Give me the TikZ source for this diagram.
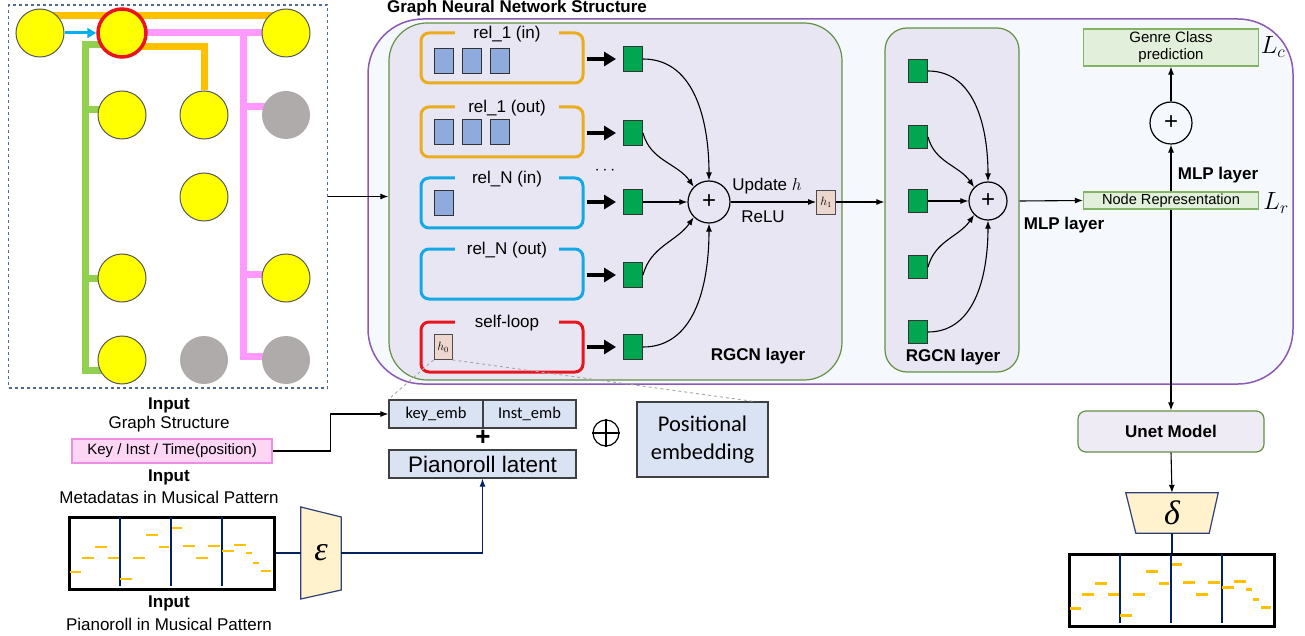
\documentclass[tikz,border=0pt]{standalone}
\usepackage{fontspec}
\setmainfont{Liberation Sans}
\newfontfamily\calibrifont{Carlito}
\newfontfamily\greekfont{Liberation Serif}
\definecolor{gnnpurple}{RGB}{140, 90, 180}
\definecolor{gnnfill}{RGB}{245, 248, 252}
\definecolor{layergreen}{RGB}{100, 145, 70}
\definecolor{layerfill}{RGB}{231, 230, 242}
\definecolor{relorange}{RGB}{235, 172, 30}
\definecolor{relblue}{RGB}{20, 168, 228}
\definecolor{relred}{RGB}{232, 20, 30}
\definecolor{vecblue}{RGB}{143, 170, 220}
\definecolor{msggreen}{RGB}{0, 166, 80}
\definecolor{hpink}{RGB}{236, 214, 206}
\definecolor{repfill}{RGB}{226, 239, 218}
\definecolor{repdraw}{RGB}{130, 180, 100}
\definecolor{embfill}{RGB}{218, 227, 243}
\definecolor{codecfill}{RGB}{255, 242, 204}
\definecolor{codecdraw}{RGB}{47, 64, 120}
\definecolor{navyline}{RGB}{0, 32, 96}
\definecolor{metafill}{RGB}{252, 214, 244}
\definecolor{metadraw}{RGB}{240, 140, 225}
\definecolor{noteorange}{RGB}{255, 192, 0}
\definecolor{edgegreen}{RGB}{146, 208, 80}
\definecolor{edgepink}{RGB}{255, 153, 255}
\definecolor{edgecyan}{RGB}{0, 176, 240}
\definecolor{nodeyellow}{RGB}{255, 255, 0}
\definecolor{nodegray}{RGB}{175, 171, 171}
\definecolor{framedash}{RGB}{80, 105, 150}
\definecolor{unetfill}{RGB}{238, 235, 245}
\usepackage{tikz}
\usetikzlibrary{arrows.meta, positioning, calc}
\pgfdeclarelayer{bg}
\pgfsetlayers{bg,main}

% bars and notes of one pianoroll, drawn inside node #1
\newcommand{\rollnotes}[1]{%
  \begin{scope}[shift={(#1.north west)}]
    \foreach \xv in {52, 103, 154}
      \draw[navyline, line width=1.1] (\xv, 1) -- (\xv, 70);
    \foreach \xa/\xb/\yv in {2/13/56, 14/26/42, 27/39/31, 40/51/42, 52/64/63, 65/77/42,
        78/90/19, 91/101/31, 104/114/12, 115/127/30, 128/140/42, 140/152/30,
        154/166/35, 166/178/29, 178/184/37, 185/191/47, 193/203/55}
      \draw[noteorange, line width=2.5] (\xa, \yv) -- (\xb, \yv);
  \end{scope}}

\begin{document}
\begin{tikzpicture}[x=1pt, y=-1pt,
  every node/.style={font=\fontsize{17}{19}\selectfont},
  lbl/.style={font=\fontsize{17}{19}\selectfont},
  boldlbl/.style={font=\fontsize{17}{19}\selectfont\bfseries},
  gvert/.style={circle, draw=black!65, line width=1, fill=nodeyellow, minimum size=48, inner sep=0},
  gmute/.style={circle, fill=nodegray, minimum size=48, inner sep=0},
  relbox/.style={draw=#1, line width=3, rounded corners=8, minimum width=162, minimum height=50},
  reltitle/.style={fill=layerfill, minimum width=104, inner sep=1, font=\fontsize{17}{19}\selectfont},
  vecsq/.style={draw=black!80, fill=vecblue, line width=1, minimum width=19, minimum height=25, inner sep=0},
  msgsq/.style={draw=black!80, fill=msggreen, line width=1, minimum width=19, minimum height=25, inner sep=0},
  hsq/.style={draw=black!70, fill=hpink, line width=0.8, minimum width=18, minimum height=25, inner sep=0, font=\fontsize{12}{13}\selectfont},
  sumnode/.style={circle, draw, line width=1.2, minimum size=#1, inner sep=0, font=\fontsize{24}{24}\selectfont},
  fatarrow/.style={line width=4, -{Triangle[length=12pt, width=14pt]}},
  thinarrow/.style={line width=1.1, -{Latex[length=8pt, width=6pt]}},
  repbox/.style={draw=repdraw, fill=repfill, line width=1.2, minimum width=175, minimum height=17, inner sep=0, font=\fontsize{14.6}{16}\selectfont},
  embbox/.style={draw=black!75, fill=embfill, line width=1.2, minimum height=28, inner sep=0, font=\calibrifont\fontsize{16.5}{18}\selectfont},
  rollbox/.style={draw, line width=3, minimum width=205, minimum height=72, inner sep=0},
  codec/.style={draw=codecdraw, fill=codecfill, line width=1.2}]

  \useasboundingbox (0, 0) rectangle (1305, 636);

  % Input graph
  \node[draw=framedash, dashed, line width=1.2, minimum width=319, minimum height=383] (gbox) at (168, 196.5) {};
  \node[gvert] (va) at (40, 33) {};
  \node[gvert, draw=relred, line width=3.5] (vr) at (122, 33) {};
  \node[gvert] (vc) at (286, 33) {};
  \node[gvert] (vd) at (122, 115) {};
  \node[gvert] (ve) at (204, 115) {};
  \node[gmute] (vf) at (286, 115) {};
  \node[gvert] (vg) at (204, 197) {};
  \node[gvert] (vh) at (122, 278) {};
  \node[gvert] (vi) at (286, 278) {};
  \node[gvert] (vj) at (122, 360) {};
  \node[gmute] (vk) at (204, 360) {};
  \node[gmute] (vl) at (286, 360) {};
  \coordinate (pk) at (243, 33);
  \coordinate (gk) at (85, 45);
  \begin{pgfonlayer}{bg}
    \draw[noteorange, line width=7] ([yshift=17pt]va.center) -- ([yshift=17pt]vc.center);
    \draw[noteorange, line width=7] ([yshift=-14pt]vr.center) -| (ve.north);
    \draw[edgepink, line width=7] (vr.center) -- (vc.center);
    \draw[edgepink, line width=7] (pk) |- ([yshift=8pt]vf.center);
    \draw[edgepink, line width=7] (pk) |- ([yshift=4pt]vi.center);
    \draw[edgepink, line width=7] (pk) |- ([yshift=4pt]vl.center);
    \draw[edgegreen, line width=7] ([yshift=-12pt]vr.center) -- (gk) |- ([yshift=5pt]vd.center);
    \draw[edgegreen, line width=7] (gk) |- (vh.center);
    \draw[edgegreen, line width=7] (gk) |- ([yshift=-10pt]vj.center);
  \end{pgfonlayer}
  \draw[edgecyan, line width=3, -{Triangle[length=9pt, width=10pt]}] (va.east) -- (vr.west);

  % GNN frame and layers
  \node[boldlbl] (title) at (517, 8) {Graph Neural Network Structure};
  \node[draw=gnnpurple, fill=gnnfill, line width=1.5, rounded corners=55, minimum width=925, minimum height=365] (gnn) at (830.5, 201.5) {};
  \node[draw=layergreen, fill=layerfill, line width=1.2, rounded corners=38, minimum width=453, minimum height=357] (L1) at (615.5, 201.5) {};
  \node[draw=layergreen, fill=layerfill, line width=1.2, rounded corners=22, minimum width=134, minimum height=344] (L2) at (952, 200) {};
  \draw[thinarrow] (gbox.east) -- (gbox.east -| L1.west);

  % Relations
  \node[relbox=relorange] (r1) at (502, 58) {};
  \node[relbox=relorange] (r2) at (502, 132) {};
  \node[relbox=relblue] (r3) at (502, 203) {};
  \node[relbox=relblue] (r4) at (502, 274) {};
  \node[relbox=relred] (r5) at (502, 347) {};
  \node[reltitle] (t1) at ([xshift=5pt, yshift=-3pt]r1.north) {rel\_1 (in)};
  \node[reltitle] (t2) at ([xshift=5pt, yshift=-3pt]r2.north) {rel\_1 (out)};
  \node[reltitle] (t3) at ([xshift=5pt, yshift=-3pt]r3.north) {rel\_N (in)};
  \node[reltitle] (t4) at ([xshift=5pt, yshift=-3pt]r4.north) {rel\_N (out)};
  \node[reltitle] (t5) at ([xshift=5pt, yshift=-3pt]r5.north) {self-loop};
  \foreach \xx in {444, 472, 500} {
    \node[vecsq] (vin-\xx) at (\xx, 61) {};
    \node[vecsq] (vout-\xx) at (\xx, 132) {};
  }
  \node[vecsq] (vN) at (444, 203) {};
  \node[hsq] (h0) at (443, 347) {$h_0$};

  % Messages and sum
  \foreach \nm/\yy in {m1/59, m2/133, m3/202, m4/275, m5/347}
    \node[msgsq] (\nm) at (633, \yy) {};
  \foreach \src/\dst in {r1/m1, r2/m2, r3/m3, r4/m4, r5/m5}
    \draw[fatarrow, shorten <=2pt, shorten >=7pt] (\src.east |- \dst.west) -- (\dst.west);
  \node[lbl] (dots) at (605, 171) {$\cdots$};
  \node[sumnode=42] (s1) at (709, 202) {+};
  \draw[thinarrow] (m1.east) to[out=0, in=90] (s1.north);
  \draw[thinarrow] (m2.east) to[out=-75, in=125] (s1.north west);
  \draw[thinarrow] (m3.east) -- (s1.west);
  \draw[thinarrow] (m4.east) to[out=75, in=-125] (s1.south west);
  \draw[thinarrow] (m5.east) to[out=0, in=-90] (s1.south);
  \node[hsq, minimum width=19, minimum height=24] (h1) at (826, 202) {$h_1$};
  \draw[thinarrow] (s1.east) -- (h1.west);
  \node[lbl] (upd) at (767, 186) {Update $h$};
  \node[lbl] (relu) at (763, 217) {ReLU};
  \node[boldlbl] (lab1) at (758, 356) {RGCN layer};
  \draw[thinarrow] (h1.east) -- (h1.east -| L2.west);

  % Second layer
  \foreach \nm/\yy in {q1/71, q2/137, q3/201, q4/267, q5/332}
    \node[msgsq, minimum height=23] (\nm) at (918, \yy) {};
  \node[sumnode=38] (s2) at (988, 201) {+};
  \draw[thinarrow] (q1.east) to[out=0, in=90] (s2.north);
  \draw[thinarrow] (q2.east) to[out=-75, in=125] (s2.north west);
  \draw[thinarrow] (q3.east) -- (s2.west);
  \draw[thinarrow] (q4.east) to[out=75, in=-125] (s2.south west);
  \draw[thinarrow] (q5.east) to[out=0, in=-90] (s2.south);
  \node[boldlbl] (lab2) at (953, 357) {RGCN layer};

  % Heads
  \node[repbox] (rep) at (1171, 200.5) {Node Representation};
  \node[repbox, minimum height=37, align=center, font=\fontsize{15}{17}\selectfont] (genre) at (1171, 47.5) {Genre Class\\prediction};
  \node[sumnode=42] (s3) at (1171, 123) {+};
  \draw[thinarrow] (L2.east |- s2) -- (rep.west);
  \draw[thinarrow] (rep.north) -- (s3.south);
  \draw[thinarrow] (s3.north) -- (genre.south);
  \node[boldlbl] (mlp1) at (1064, 225) {MLP layer};
  \node[boldlbl] (mlp2) at (1218, 175) {MLP layer};
  \node (lc) at (1273, 47) {\fontsize{26}{26}\selectfont$L_c$};
  \node (lr) at (1276, 203) {\fontsize{26}{26}\selectfont$L_r$};

  % Decoder side
  \node[boldlbl, draw=layergreen, fill=unetfill, rounded corners=8, line width=1.2, minimum width=186, minimum height=41] (unet) at (1171, 431.5) {Unet Model};
  \draw[thinarrow] (rep.south) -- (unet.north);
  \node[minimum width=92, minimum height=40, inner sep=0] (dec) at (1172, 513) {\greekfont\itshape\fontsize{34}{34}\selectfont δ};
  \begin{pgfonlayer}{bg}
    \draw[codec] (dec.north west) -- (dec.north east) -- ([xshift=-9pt]dec.south east) -- ([xshift=10pt]dec.south west) -- cycle;
  \end{pgfonlayer}
  \draw[thinarrow] (unet.south) -- (dec.north);
  \node[rollbox] (outroll) at (1172, 590) {};
  \draw[navyline, line width=1.2] (dec.south) -- (outroll.north);
  \rollnotes{outroll}

  % Inputs
  \node[boldlbl] (in1) at (169, 405) {Input};
  \node[lbl] (in1t) at (169, 424) {Graph Structure};
  \node[draw=metadraw, fill=metafill, line width=1.2, minimum width=200, minimum height=24, inner sep=0, font=\fontsize{15}{17}\selectfont] (meta) at (172, 451) {Key / Inst / Time(position)};
  \node[boldlbl] (in2) at (169, 477) {Input};
  \node[lbl] (in2t) at (169, 497) {Metadatas in Musical Pattern};
  \node[rollbox] (inroll) at (172, 553.5) {};
  \rollnotes{inroll}
  \node[boldlbl] (in3) at (169, 603) {Input};
  \node[lbl] (in3t) at (169, 624) {Pianoroll in Musical Pattern};
  \node[minimum width=40, minimum height=82, inner sep=0] (enc) at (321, 553) {\greekfont\itshape\fontsize{34}{34}\selectfont ε};
  \begin{pgfonlayer}{bg}
    \draw[codec] ([yshift=46pt]enc.west) -- ([yshift=36pt]enc.east) -- ([yshift=-37pt]enc.east) -- ([yshift=-46pt]enc.west) -- cycle;
  \end{pgfonlayer}

  % Embeddings
  \node[embbox, minimum width=94] (kemb) at (436, 414) {key\_emb};
  \node[embbox, minimum width=93] (iemb) at (529.5, 414) {Inst\_emb};
  \node (plus) at (483, 438) {\fontsize{26}{26}\selectfont\textbf{+}};
  \node[embbox, minimum width=187, font=\fontsize{22.5}{24}\selectfont] (latent) at (482.5, 464) {Pianoroll latent};
  \node[circle, draw, line width=1.2, minimum size=26, inner sep=0] (oplus) at (606, 433) {};
  \draw[line width=1.2] (oplus.north) -- (oplus.south) (oplus.west) -- (oplus.east);
  \node[embbox, minimum width=131, minimum height=75, align=center, font=\calibrifont\fontsize{22.5}{28}\selectfont] (pos) at (702.5, 439.5) {Positional\\embedding};
  \draw[thinarrow] (meta.east) -- ++(58, 0) |- (kemb.west);
  \draw[navyline, line width=1.2] (inroll.east |- enc.west) -- (enc.west);
  \draw[navyline, line width=1.2, -{Latex[length=8pt, width=6pt]}] (enc.east) -| (latent.south);
  \draw[gray!70, dashed, line width=0.9] (h0.south west) -- (kemb.north west);
  \draw[gray!70, dashed, line width=0.9] (h0.south east) -- ([xshift=-15pt]pos.north east);
\end{tikzpicture}
\end{document}
